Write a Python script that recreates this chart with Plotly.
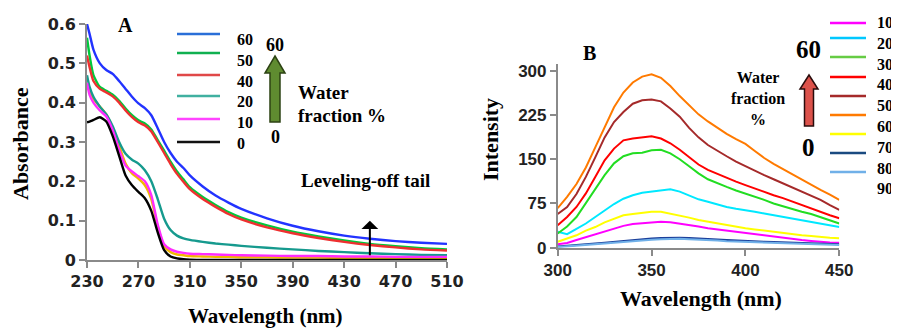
import plotly.graph_objects as go

# page is 899x331; the html body adds an 8px margin, so the figure is 891x323
PAGE_W, PAGE_H, BODY = 899, 331, 8
W, H = PAGE_W - BODY, PAGE_H - BODY

# ---------------- Panel A data (UV-vis absorbance) ----------------
wl_a = [230, 232, 235, 240, 245, 250, 255, 260, 265, 270, 275, 280, 285, 290, 295,
        300, 305, 310, 320, 330, 340, 350, 370, 390, 410, 430, 450, 470, 490, 510]
abs_60 = [0.600, 0.575, 0.535, 0.500, 0.483, 0.473, 0.455, 0.435, 0.415, 0.398, 0.386, 0.368, 0.335, 0.300, 0.272,
          0.250, 0.234, 0.215, 0.187, 0.164, 0.146, 0.130, 0.106, 0.087, 0.073, 0.062, 0.054, 0.048, 0.044, 0.041]
abs_50 = [0.565, 0.520, 0.470, 0.440, 0.430, 0.420, 0.405, 0.385, 0.368, 0.355, 0.347, 0.332, 0.305, 0.278, 0.250,
          0.225, 0.205, 0.185, 0.160, 0.140, 0.122, 0.108, 0.088, 0.072, 0.060, 0.050, 0.041, 0.035, 0.030, 0.027]
abs_40 = [0.520, 0.490, 0.455, 0.435, 0.426, 0.416, 0.400, 0.380, 0.363, 0.350, 0.342, 0.327, 0.300, 0.272, 0.244,
          0.219, 0.199, 0.180, 0.155, 0.135, 0.117, 0.103, 0.083, 0.068, 0.056, 0.046, 0.038, 0.032, 0.027, 0.024]
abs_30 = [0.440, 0.430, 0.410, 0.390, 0.370, 0.335, 0.290, 0.245, 0.220, 0.207, 0.190, 0.155, 0.085, 0.035, 0.020,
          0.014, 0.012, 0.010, 0.009, 0.008, 0.008, 0.007, 0.007, 0.006, 0.006, 0.005, 0.005, 0.005, 0.005, 0.005]
abs_20 = [0.470, 0.440, 0.415, 0.390, 0.370, 0.340, 0.300, 0.270, 0.255, 0.245, 0.228, 0.200, 0.155, 0.105, 0.076,
          0.062, 0.055, 0.051, 0.046, 0.042, 0.039, 0.036, 0.031, 0.027, 0.023, 0.020, 0.017, 0.015, 0.013, 0.012]
abs_10 = [0.450, 0.420, 0.400, 0.380, 0.365, 0.330, 0.280, 0.240, 0.225, 0.213, 0.200, 0.165, 0.090, 0.040, 0.027,
          0.021, 0.018, 0.016, 0.015, 0.014, 0.013, 0.012, 0.011, 0.010, 0.010, 0.009, 0.009, 0.008, 0.008, 0.008]
abs_0 = [0.350, 0.352, 0.356, 0.363, 0.352, 0.315, 0.265, 0.215, 0.190, 0.173, 0.157, 0.125, 0.070, 0.025, 0.009,
         0.004, 0.002, 0.001, 0.000, 0.000, 0.000, 0.000, 0.000, 0.000, 0.000, 0.000, 0.000, 0.000, 0.000, 0.000]

series_a = [  # (label, values, colour, in legend)
    ("60", abs_60, "#2233ff", True),
    ("50", abs_50, "#00c83c", True),
    ("40", abs_40, "#ee3030", True),
    ("30", abs_30, "#f0b800", False),
    ("20", abs_20, "#169a8e", True),
    ("10", abs_10, "#ff2cff", True),
    ("0", abs_0, "#000000", True),
]
legend_a_colors = {"60": "#2a6fd8", "50": "#10b050", "40": "#e04848", "20": "#40b0a0", "10": "#ff44ff", "0": "#111111"}
x_ticks_a = [230, 270, 310, 350, 390, 430, 470, 510]
y_ticks_a = [0, 0.1, 0.2, 0.3, 0.4, 0.5, 0.6]
y_ticklabels_a = ["0", "0.1", "0.2", "0.3", "0.4", "0.5", "0.6"]
tail_arrow_x, tail_arrow_y0, tail_arrow_y1 = 450, 0.008, 0.10

# ---------------- Panel B data (fluorescence intensity) ----------------
wl_b = [300, 305, 310, 315, 320, 325, 330, 335, 340, 345, 350, 355, 360, 365, 370, 375,
        380, 385, 390, 395, 400, 405, 410, 415, 420, 425, 430, 435, 440, 445, 450]
int_10 = [6, 8, 13, 18, 23, 28, 33, 37, 40, 41, 42, 44, 43, 41, 38, 36,
          33, 31, 29, 27, 24, 22, 20, 18, 16, 14.5, 13, 11.5, 10, 9, 8.5]
int_20 = [27, 23, 32, 41, 52, 63, 74, 83, 89, 93, 95, 98, 99, 95, 88, 82,
          78, 73, 69, 66, 64, 61, 58, 55, 52, 50, 47, 44, 41, 38, 35]
int_30 = [24, 36, 52, 75, 98, 123, 143, 155, 160, 161, 165, 166, 160, 150, 138, 126,
          116, 109, 103, 97, 92, 86, 81, 75, 70, 65, 61, 57, 52, 47, 41]
int_40 = [38, 52, 69, 92, 120, 148, 168, 182, 185, 187, 189, 185, 177, 166, 153, 141,
          132, 125, 118, 112, 106, 100, 95, 89, 84, 78, 72, 66, 61, 55, 50]
int_50 = [57, 69, 91, 120, 153, 187, 213, 230, 244, 250, 251, 248, 236, 222, 203, 187,
          174, 164, 155, 146, 138, 130, 123, 116, 109, 102, 95, 88, 81, 72, 64]
int_60 = [67, 86, 108, 136, 170, 204, 238, 263, 280, 290, 294, 288, 274, 257, 241, 226,
          214, 203, 193, 184, 176, 164, 152, 142, 133, 124, 115, 106, 98, 90, 81]
int_70 = [10, 16, 21, 29, 35, 43, 49, 55, 57, 59, 61, 61, 58, 55, 51, 47,
          44, 41, 38, 35, 33, 31, 29, 27, 24, 23, 21, 20, 18, 17, 16]
int_80 = [2, 3, 4, 5.5, 7, 8.5, 10, 12, 13, 14.5, 15.5, 16.5, 17, 17, 16.5, 16,
          15, 14, 13, 12, 11.5, 10.5, 10, 9.5, 9, 8.5, 8, 7.5, 7, 6.5, 6]
int_90 = [1, 2, 3, 4, 5.5, 7, 8.5, 10, 11, 12.5, 13.5, 14.5, 15, 15, 14.5, 14,
          13, 12, 11, 10.5, 10, 9, 8.5, 8, 7.5, 7, 6.5, 6, 5.5, 5, 4.5]

series_b = [
    ("10", int_10, "#ff00ff"),
    ("20", int_20, "#00e8ff"),
    ("30", int_30, "#22dd22"),
    ("40", int_40, "#ff0000"),
    ("50", int_50, "#a52a2a"),
    ("60", int_60, "#ff7a00"),
    ("70", int_70, "#ffff00"),
    ("80", int_80, "#1b3f9a"),
    ("90", int_90, "#70b0e8"),
]
legend_b_colors = {"30": "#66cc44", "20": "#00c8ff", "80": "#1a4a80"}
x_ticks_b = [300, 350, 400, 450]
y_ticks_b = [0, 75, 150, 225, 300]

# ---------------- helpers (page pixel -> paper fraction) ----------------
def px(x):
    return (x - BODY) / W

def py(y):
    return 1 - (y - BODY) / H

SERIF = "Liberation Serif"
SANS = "DejaVu Sans"

fig = go.Figure()

for name, vals, col, _ in series_a:
    fig.add_trace(go.Scatter(x=wl_a, y=vals, mode="lines", name=name,
                             line=dict(color=col, width=2.4, shape="spline", smoothing=0.6),
                             xaxis="x", yaxis="y", showlegend=False))

for name, vals, col in series_b:
    fig.add_trace(go.Scatter(x=wl_b, y=vals, mode="lines", name=name,
                             line=dict(color=col, width=2),
                             xaxis="x2", yaxis="y2", showlegend=False))

axis_common = dict(showline=True, linecolor="#8a8a8a", linewidth=1.6, ticks="outside",
                   ticklen=6, tickwidth=1.6, tickcolor="#8a8a8a", showgrid=False,
                   zeroline=False, fixedrange=True, automargin=False)

fig.update_layout(
    template="none",
    width=W, height=H, autosize=False,
    margin=dict(l=0, r=0, t=0, b=0, pad=0, autoexpand=False),
    paper_bgcolor="white", plot_bgcolor="white",
    showlegend=False,
    xaxis=dict(domain=[px(87), px(447)], range=[230, 510], tickvals=x_ticks_a,
               tickfont=dict(family=SANS, size=16, color="#222", weight="bold"),
               anchor="y", **axis_common),
    yaxis=dict(domain=[py(260), py(24)], range=[0, 0.6], tickvals=y_ticks_a,
               ticktext=y_ticklabels_a,
               tickfont=dict(family=SANS, size=16, color="#222", weight="bold"),
               anchor="x", **axis_common),
    xaxis2=dict(domain=[px(557.7), px(839.3)], range=[300, 450], tickvals=x_ticks_b,
                tickfont=dict(family="Liberation Sans", size=17, color="#222", weight="bold"),
                anchor="y2", **axis_common),
    yaxis2=dict(domain=[py(247.7), py(64.2)], range=[0, 311], tickvals=y_ticks_b,
                tickfont=dict(family="Liberation Sans", size=17, color="#222", weight="bold"),
                anchor="x2", **axis_common),
)

ann = []
def text(x, y, s, size, xanchor="center", family=SERIF, textangle=0, align="center"):
    ann.append(dict(xref="paper", yref="paper", x=px(x), y=py(y), text=s, showarrow=False,
                    xanchor=xanchor, yanchor="middle", textangle=textangle, align=align,
                    font=dict(family=family, size=size, color="black", weight="bold")))

# axis titles
text(265, 316, "Wavelength (nm)", 21)
text(20, 144, "Absorbance", 22, textangle=-90)
text(701, 298, "Wavelength (nm)", 22)
text(490, 140, "Intensity", 22, textangle=-90)
# panel letters
text(125, 25, "A", 20)
text(589, 53, "B", 20)

# panel A legend (manual keys + one multi-line label block)
shapes = []
leg_a_line_y = [34, 53, 75, 96, 119, 142]
leg_names_a = [s for s in series_a if s[3]]
for (name, _, col, _), yl in zip(leg_names_a, leg_a_line_y):
    shapes.append(dict(type="line", xref="paper", yref="paper", x0=px(177), x1=px(220),
                       y0=py(yl), y1=py(yl), line=dict(color=legend_a_colors.get(name, col), width=2.6)))
text(235, 91, "<br>".join(s[0] for s in leg_names_a), 16, xanchor="left", align="left")

# block arrows
def block_arrow(cx, ytip, ybot, head_h, head_hw, shaft_hw, fill, edge):
    pts = [(cx, ytip), (cx + head_hw, ytip + head_h), (cx + shaft_hw, ytip + head_h),
           (cx + shaft_hw, ybot), (cx - shaft_hw, ybot), (cx - shaft_hw, ytip + head_h),
           (cx - head_hw, ytip + head_h)]
    path = "M " + " L ".join(f"{px(a):.5f},{py(b):.5f}" for a, b in pts) + " Z"
    shapes.append(dict(type="path", xref="paper", yref="paper", path=path,
                       fillcolor=fill, line=dict(color=edge, width=1.5)))

block_arrow(275, 56, 122, 17, 10, 5, "#5f8b30", "#2c4213")
text(275, 45, "60", 18)
text(275, 137, "0", 18)
text(296, 92, "Water", 19, xanchor="left")
text(296, 115, "fraction %", 19, xanchor="left")
text(299, 180, "Leveling-off tail", 19, xanchor="left")

ann.append(dict(xref="x", yref="y", axref="x", ayref="y", x=tail_arrow_x, y=tail_arrow_y1,
                ax=tail_arrow_x, ay=tail_arrow_y0, showarrow=True, arrowhead=1,
                arrowsize=1.4, arrowwidth=2, arrowcolor="black", text=""))

# panel B legend (manual keys + one multi-line label block)
leg_b_line_y = [23, 38, 57, 77, 96, 115, 134, 153, 172]
for (name, _, col), yl in zip(series_b, leg_b_line_y):
    shapes.append(dict(type="line", xref="paper", yref="paper", x0=px(830), x1=px(866),
                       y0=py(yl), y1=py(yl), line=dict(color=legend_b_colors.get(name, col), width=2.6)))
text(875, 105, "<br>".join(s[0] for s in series_b), 16, xanchor="left", align="left")

block_arrow(809, 75, 126, 14, 9, 4.5, "#dc524b", "#2a0c0c")
text(808, 50, "60", 25)
text(808, 147, "0", 25)
text(758, 99, "Water<br>fraction<br>%", 16)

fig.update_layout(annotations=ann, shapes=shapes)
fig.write_html("out.html")
